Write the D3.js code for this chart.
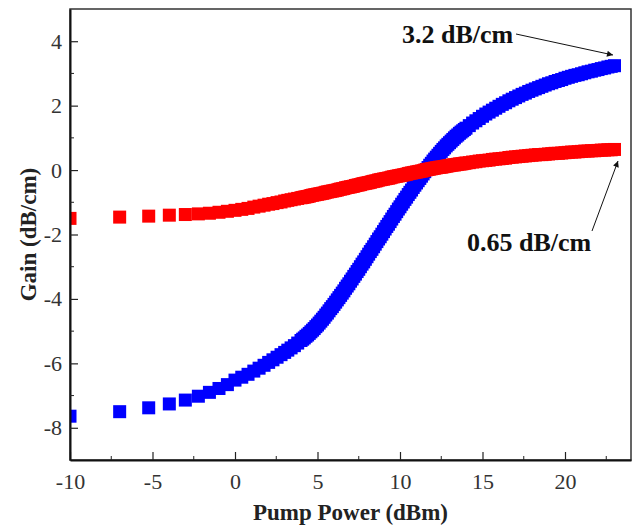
<!DOCTYPE html>
<html>
<head>
<meta charset="utf-8">
<script src="https://cdn.jsdelivr.net/npm/d3@7"></script>
<style>
  body { margin: 0; background: #fff; }
  text { font-family: "Liberation Serif", "Times New Roman", serif; }
</style>
</head>
<body>
<div id="chart-area"></div>
<script>
/*
*    gain vs pump power
*/

// pump power (dBm) - low end follows the measured 0.1 mW steps
var pumpPower = [-10, -6.99, -5.23, -3.98, -3.01, -2.22, -1.55, -0.97, -0.46, 0,
  0.41, 0.79, 1.14, 1.46, 1.76, 2.04, 2.30, 2.55, 2.79, 3.01,
  3.2, 3.4, 3.6, 3.8,
  4.0, 4.1, 4.2, 4.3, 4.4, 4.5, 4.6, 4.7, 4.8, 4.9,
  5.0, 5.1, 5.2, 5.3, 5.4, 5.5, 5.6, 5.7, 5.8, 5.9,
  6.0, 6.1, 6.2, 6.3, 6.4, 6.5, 6.6, 6.7, 6.8, 6.9,
  7.0, 7.1, 7.2, 7.3, 7.4, 7.5, 7.6, 7.7, 7.8, 7.9,
  8.0, 8.1, 8.2, 8.3, 8.4, 8.5, 8.6, 8.7, 8.8, 8.9,
  9.0, 9.1, 9.2, 9.3, 9.4, 9.5, 9.6, 9.7, 9.8, 9.9,
  10.0, 10.1, 10.2, 10.3, 10.4, 10.5, 10.6, 10.7, 10.8, 10.9,
  11.0, 11.1, 11.2, 11.3, 11.4, 11.5, 11.6, 11.7, 11.8, 11.9,
  12.0, 12.1, 12.2, 12.3, 12.4, 12.5, 12.6, 12.7, 12.8, 12.9,
  13.0, 13.1, 13.2, 13.3, 13.4, 13.5, 13.6, 13.7, 13.8, 13.9,
  14.0,
  14.2, 14.4, 14.6, 14.8, 15.0, 15.2, 15.4, 15.6, 15.8, 16.0,
  16.2, 16.4, 16.6, 16.8, 17.0, 17.2, 17.4, 17.6, 17.8, 18.0,
  18.2, 18.4, 18.6, 18.8, 19.0, 19.2, 19.4, 19.6, 19.8, 20.0,
  20.2, 20.4, 20.6, 20.8, 21.0, 21.2, 21.4, 21.6, 21.8, 22.0,
  22.2, 22.4, 22.6, 22.8, 23.0];

// gain (dB/cm), blue series
var gainBlue = [-7.64, -7.50, -7.38, -7.26, -7.14, -7.02, -6.90, -6.78, -6.66, -6.52,
  -6.43, -6.34, -6.24, -6.15, -6.06, -5.97, -5.89, -5.81, -5.73, -5.66,
  -5.59, -5.52, -5.45, -5.37,
  -5.29, -5.25, -5.21, -5.16, -5.12, -5.07, -5.02, -4.97, -4.92, -4.86,
  -4.81, -4.75, -4.69, -4.63, -4.57, -4.50, -4.44, -4.37, -4.30, -4.24,
  -4.17, -4.10, -4.03, -3.96, -3.89, -3.82, -3.75, -3.67, -3.60, -3.53,
  -3.45, -3.38, -3.30, -3.23, -3.15, -3.08, -3.00, -2.92, -2.85, -2.77,
  -2.69, -2.61, -2.53, -2.46, -2.38, -2.30, -2.22, -2.14, -2.07, -1.99,
  -1.91, -1.83, -1.75, -1.68, -1.60, -1.52, -1.44, -1.37, -1.29, -1.21,
  -1.14, -1.06, -0.99, -0.91, -0.84, -0.76, -0.69, -0.62, -0.54, -0.47,
  -0.40, -0.33, -0.26, -0.19, -0.12, -0.05, 0.02, 0.08, 0.15, 0.21,
  0.28, 0.34, 0.40, 0.46, 0.52, 0.58, 0.64, 0.69, 0.75, 0.80,
  0.85, 0.90, 0.95, 1.00, 1.05, 1.09, 1.14, 1.18, 1.22, 1.26,
  1.30,
  1.38, 1.46, 1.53, 1.60, 1.67, 1.74, 1.80, 1.86, 1.92, 1.98,
  2.04, 2.09, 2.15, 2.20, 2.25, 2.30, 2.35, 2.39, 2.44, 2.48,
  2.52, 2.56, 2.60, 2.64, 2.68, 2.71, 2.75, 2.78, 2.81, 2.85,
  2.88, 2.91, 2.94, 2.96, 2.99, 3.02, 3.05, 3.07, 3.10, 3.12,
  3.15, 3.17, 3.20, 3.22, 3.24];

// gain (dB/cm), red series
var gainRed = [-1.50, -1.46, -1.43, -1.40, -1.38, -1.36, -1.34, -1.31, -1.28, -1.25,
  -1.22, -1.19, -1.15, -1.12, -1.09, -1.06, -1.04, -1.01, -0.99, -0.96,
  -0.94, -0.92, -0.90, -0.88,
  -0.86, -0.85, -0.84, -0.83, -0.82, -0.81, -0.79, -0.78, -0.77, -0.76,
  -0.75, -0.74, -0.73, -0.72, -0.71, -0.69, -0.68, -0.67, -0.66, -0.65,
  -0.64, -0.63, -0.62, -0.60, -0.59, -0.58, -0.57, -0.55, -0.54, -0.53,
  -0.52, -0.51, -0.50, -0.48, -0.47, -0.46, -0.45, -0.43, -0.42, -0.41,
  -0.40, -0.39, -0.38, -0.36, -0.35, -0.34, -0.33, -0.31, -0.30, -0.29,
  -0.28, -0.27, -0.26, -0.25, -0.24, -0.22, -0.21, -0.20, -0.19, -0.18,
  -0.17, -0.16, -0.15, -0.14, -0.13, -0.11, -0.10, -0.09, -0.08, -0.07,
  -0.06, -0.05, -0.04, -0.03, -0.02, 0.00, 0.01, 0.02, 0.03, 0.04,
  0.05, 0.06, 0.07, 0.08, 0.09, 0.09, 0.10, 0.11, 0.12, 0.13,
  0.14, 0.15, 0.16, 0.16, 0.17, 0.18, 0.19, 0.19, 0.20, 0.21,
  0.22,
  0.23, 0.25, 0.26, 0.28, 0.29, 0.30, 0.31, 0.33, 0.34, 0.35,
  0.36, 0.37, 0.39, 0.40, 0.41, 0.42, 0.43, 0.44, 0.45, 0.46,
  0.47, 0.48, 0.48, 0.49, 0.50, 0.51, 0.52, 0.52, 0.53, 0.54,
  0.55, 0.56, 0.56, 0.57, 0.58, 0.59, 0.59, 0.60, 0.60, 0.61,
  0.62, 0.62, 0.63, 0.63, 0.64];

var xTicks = [-10, -5, 0, 5, 10, 15, 20];
var xMinor = [-7.5, -2.5, 2.5, 7.5, 12.5, 17.5, 22.5];
var yTicks = [-8, -6, -4, -2, 0, 2, 4];
var yMinor = [-7, -5, -3, -1, 1, 3];

console.log(pumpPower.length, gainBlue.length, gainRed.length);

var margin = {top: 9, right: 4, bottom: 68, left: 70};
var width = 561;
var height = 451;
var sq = 13;

var svg = d3.select("#chart-area").append("svg")
    .attr("width", width + margin.left + margin.right)
    .attr("height", height + margin.top + margin.bottom);

svg.append("rect")
    .attr("width", "100%").attr("height", "100%")
    .attr("fill", "#fff");

var g = svg.append("g")
    .attr("transform", "translate(" + margin.left + ", " + margin.top + ")");

var x = d3.scaleLinear()
    .domain([-10, 24])
    .range([0, width]);

var y = d3.scaleLinear()
    .domain([-9, 5])
    .range([height, 0]);

g.append("clipPath")
    .attr("id", "plot-clip")
  .append("rect")
    .attr("width", width)
    .attr("height", height);

// frame
g.append("rect")
    .attr("width", width)
    .attr("height", height)
    .attr("fill", "none")
    .attr("stroke", "#333")
    .attr("stroke-width", 1.5);

var series = [
  {name: "blue", values: gainBlue, color: "#0000ff"},
  {name: "red", values: gainRed, color: "#ff0000"}
];

var marks = g.append("g").attr("clip-path", "url(#plot-clip)");

series.forEach((s) => {
  marks.append("g")
      .attr("class", "series " + s.name)
    .selectAll("rect")
    .data(pumpPower.map((p, i) => { return {p: p, v: s.values[i]}; }))
    .enter()
    .append("rect")
      .attr("x", (d) => { return x(d.p) - sq / 2; })
      .attr("y", (d) => { return y(d.v) - sq / 2; })
      .attr("width", sq)
      .attr("height", sq)
      .attr("fill", s.color);
});

// axes, ticks pointing inward
var bottomAxis = d3.axisBottom(x)
    .tickValues(xTicks)
    .tickSizeInner(-8)
    .tickSizeOuter(0)
    .tickPadding(13)
    .tickFormat(d3.format("d"));

var xAxisG = g.append("g")
    .attr("class", "bottom axis")
    .attr("transform", "translate(0, " + height + ")")
    .call(bottomAxis);

xAxisG.selectAll(".minor")
    .data(xMinor)
    .enter()
    .append("line")
      .attr("class", "minor")
      .attr("x1", (d) => { return x(d); })
      .attr("x2", (d) => { return x(d); })
      .attr("y1", 0)
      .attr("y2", -4)
      .attr("stroke", "#222");

var leftAxis = d3.axisLeft(y)
    .tickValues(yTicks)
    .tickSizeInner(-8)
    .tickSizeOuter(0)
    .tickPadding(8)
    .tickFormat(d3.format("d"));

var yAxisG = g.append("g")
    .attr("class", "left axis")
    .call(leftAxis);

yAxisG.selectAll(".minor")
    .data(yMinor)
    .enter()
    .append("line")
      .attr("class", "minor")
      .attr("y1", (d) => { return y(d); })
      .attr("y2", (d) => { return y(d); })
      .attr("x1", 0)
      .attr("x2", 4)
      .attr("stroke", "#222");

g.selectAll(".axis .domain")
    .attr("stroke", "#111")
    .attr("stroke-width", 2);

g.selectAll(".axis .tick line")
    .attr("stroke", "#222")
    .attr("stroke-width", 1.2);

g.selectAll(".axis text")
    .attr("font-family", "'Liberation Serif', 'Times New Roman', serif")
    .attr("font-size", "22px")
    .attr("fill", "#333")
    .text(function (d) { return d < 0 ? "-" + Math.abs(d) : d; });

// axis titles
svg.append("text")
    .attr("class", "x axis-label")
    .attr("x", margin.left + width / 2)
    .attr("y", 520)
    .attr("font-size", "23px")
    .attr("font-weight", "bold")
    .attr("text-anchor", "middle")
    .style("fill", "#222")
    .text("Pump Power (dBm)");

svg.append("text")
    .attr("class", "y axis-label")
    .attr("x", -(margin.top + height / 2))
    .attr("y", 36)
    .attr("font-size", "23px")
    .attr("font-weight", "bold")
    .attr("text-anchor", "middle")
    .attr("transform", "rotate(-90)")
    .style("fill", "#222")
    .text("Gain (dB/cm)");

// annotations
svg.append("defs").append("marker")
    .attr("id", "arrow")
    .attr("viewBox", "0 0 10 10")
    .attr("refX", 10)
    .attr("refY", 5)
    .attr("markerWidth", 8)
    .attr("markerHeight", 6)
    .attr("markerUnits", "userSpaceOnUse")
    .attr("orient", "auto")
  .append("path")
    .attr("d", "M0,0 L10,5 L0,10 Z")
    .attr("fill", "#111");

svg.append("text")
    .attr("x", 402)
    .attr("y", 43)
    .attr("font-size", "26px")
    .attr("font-weight", "bold")
    .style("fill", "#111")
    .text("3.2 dB/cm");

svg.append("line")
    .attr("x1", 516).attr("y1", 34)
    .attr("x2", 613).attr("y2", 55)
    .attr("stroke", "#111")
    .attr("stroke-width", 1)
    .attr("marker-end", "url(#arrow)");

svg.append("text")
    .attr("x", 467)
    .attr("y", 251)
    .attr("font-size", "26px")
    .attr("font-weight", "bold")
    .style("fill", "#111")
    .text("0.65 dB/cm");

svg.append("line")
    .attr("x1", 592).attr("y1", 231)
    .attr("x2", 618).attr("y2", 161)
    .attr("stroke", "#111")
    .attr("stroke-width", 1)
    .attr("marker-end", "url(#arrow)");
</script>
</body>
</html>
